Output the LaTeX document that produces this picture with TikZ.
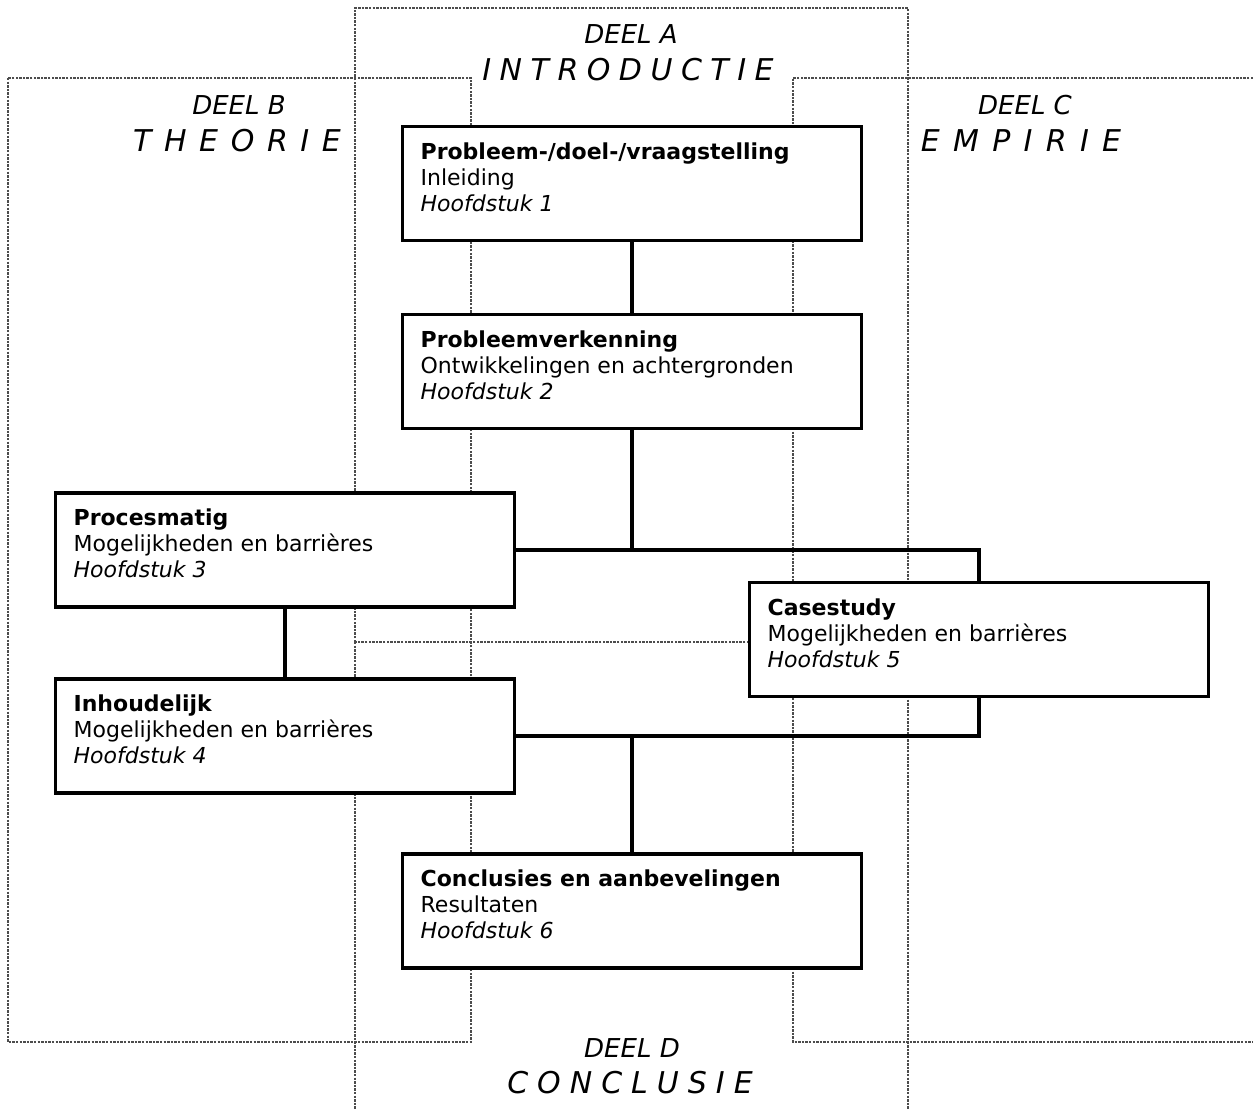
\documentclass[tikz,border=0pt]{standalone}
\usepackage{fontspec}
\setmainfont{DejaVu Sans}
\usetikzlibrary{positioning}
\newcommand{\widetitle}[2]{\spaceskip=#1\relax #2}
\begin{document}
\begin{tikzpicture}[x=1pt,y=-1pt,
  region/.style={draw=black!70, line width=1.2pt, dash pattern=on 2.4pt off 1.2pt},
  stage/.style={draw, fill=white, line width=3.1pt, minimum width=459pt, minimum height=114pt, inner sep=0pt},
  stagetext/.style={font=\fontsize{22}{26}\selectfont, align=left, inner sep=0pt},
  link/.style={line width=3.1pt},
  partname/.style={font=\fontsize{26}{30}\selectfont\itshape, anchor=base, inner sep=0pt},
  parttitle/.style={font=\fontsize{30}{34}\selectfont\itshape, anchor=base, inner sep=0pt}]
\useasboundingbox (0,0) rectangle (1253,1109);

% the four parts of the report (part D shares its top edge with part A)
\draw[region] (355,642) rectangle (908,8);
\draw[region] (8,78) rectangle (471,1042);
\draw[region] (1253,78) -- (793,78) -- (793,1042) -- (1253,1042);
\draw[region] (355,642) -- (355,1109);
\draw[region] (908,642) -- (908,1109);

% part headings
\node[partname]  (da) at (631,43)   {DEEL A};
\node[parttitle] (ta) at (628,80)   {\widetitle{8.5pt}{I N T R O D U C T I E}};
\node[partname]  (db) at (239,114)  {DEEL B};
\node[parttitle] (tb) at (237,151)  {\widetitle{12.6pt}{T H E O R I E}};
\node[partname]  (dc) at (1025,114) {DEEL C};
\node[parttitle] (tc) at (1021,151) {\widetitle{13.3pt}{E M P I R I E}};
\node[partname]  (dd) at (632,1057) {DEEL D};
\node[parttitle] (td) at (630,1093) {\widetitle{9pt}{C O N C L U S I E}};

% chapters
\node[stage] (p1) at (632,183.5) {};
\node[stage] (p2) at (632,371.5) {};
\node[stage] (p3) at (285,550)   {};
\node[stage] (p4) at (285,736)   {};
\node[stage] (p5) at (979,639.5) {};
\node[stage] (p6) at (632,911)   {};

% connections between chapters
\coordinate (jt) at (p3.east -| p2.south);
\coordinate (jb) at (p4.east -| p6.north);
\draw[link] (p1.south) -- (p2.north);
\draw[link] (p2.south) -- (jt);
\draw[link] (p3.east) -| (p5.north);
\draw[link] (p4.east) -| (p5.south);
\draw[link] (jb) -- (p6.north);
\draw[link] (p3.south) -- (p4.north);

% chapter texts
\node[stagetext, below right=17.5pt and 19.5pt of p1.north west] (t1)
  {\textbf{Probleem-/doel-/vraagstelling}\\Inleiding\\\textit{Hoofdstuk 1}};
\node[stagetext, below right=17.5pt and 19.5pt of p2.north west] (t2)
  {\textbf{Probleemverkenning}\\Ontwikkelingen en achtergronden\\\textit{Hoofdstuk 2}};
\node[stagetext, below right=17.5pt and 19.5pt of p3.north west] (t3)
  {\textbf{Procesmatig}\\Mogelijkheden en barrières\\\textit{Hoofdstuk 3}};
\node[stagetext, below right=17.5pt and 19.5pt of p4.north west] (t4)
  {\textbf{Inhoudelijk}\\Mogelijkheden en barrières\\\textit{Hoofdstuk 4}};
\node[stagetext, below right=17.5pt and 19.5pt of p5.north west] (t5)
  {\textbf{Casestudy}\\Mogelijkheden en barrières\\\textit{Hoofdstuk 5}};
\node[stagetext, below right=17.5pt and 19.5pt of p6.north west] (t6)
  {\textbf{Conclusies en aanbevelingen}\\Resultaten\\\textit{Hoofdstuk 6}};
\end{tikzpicture}
\end{document}
